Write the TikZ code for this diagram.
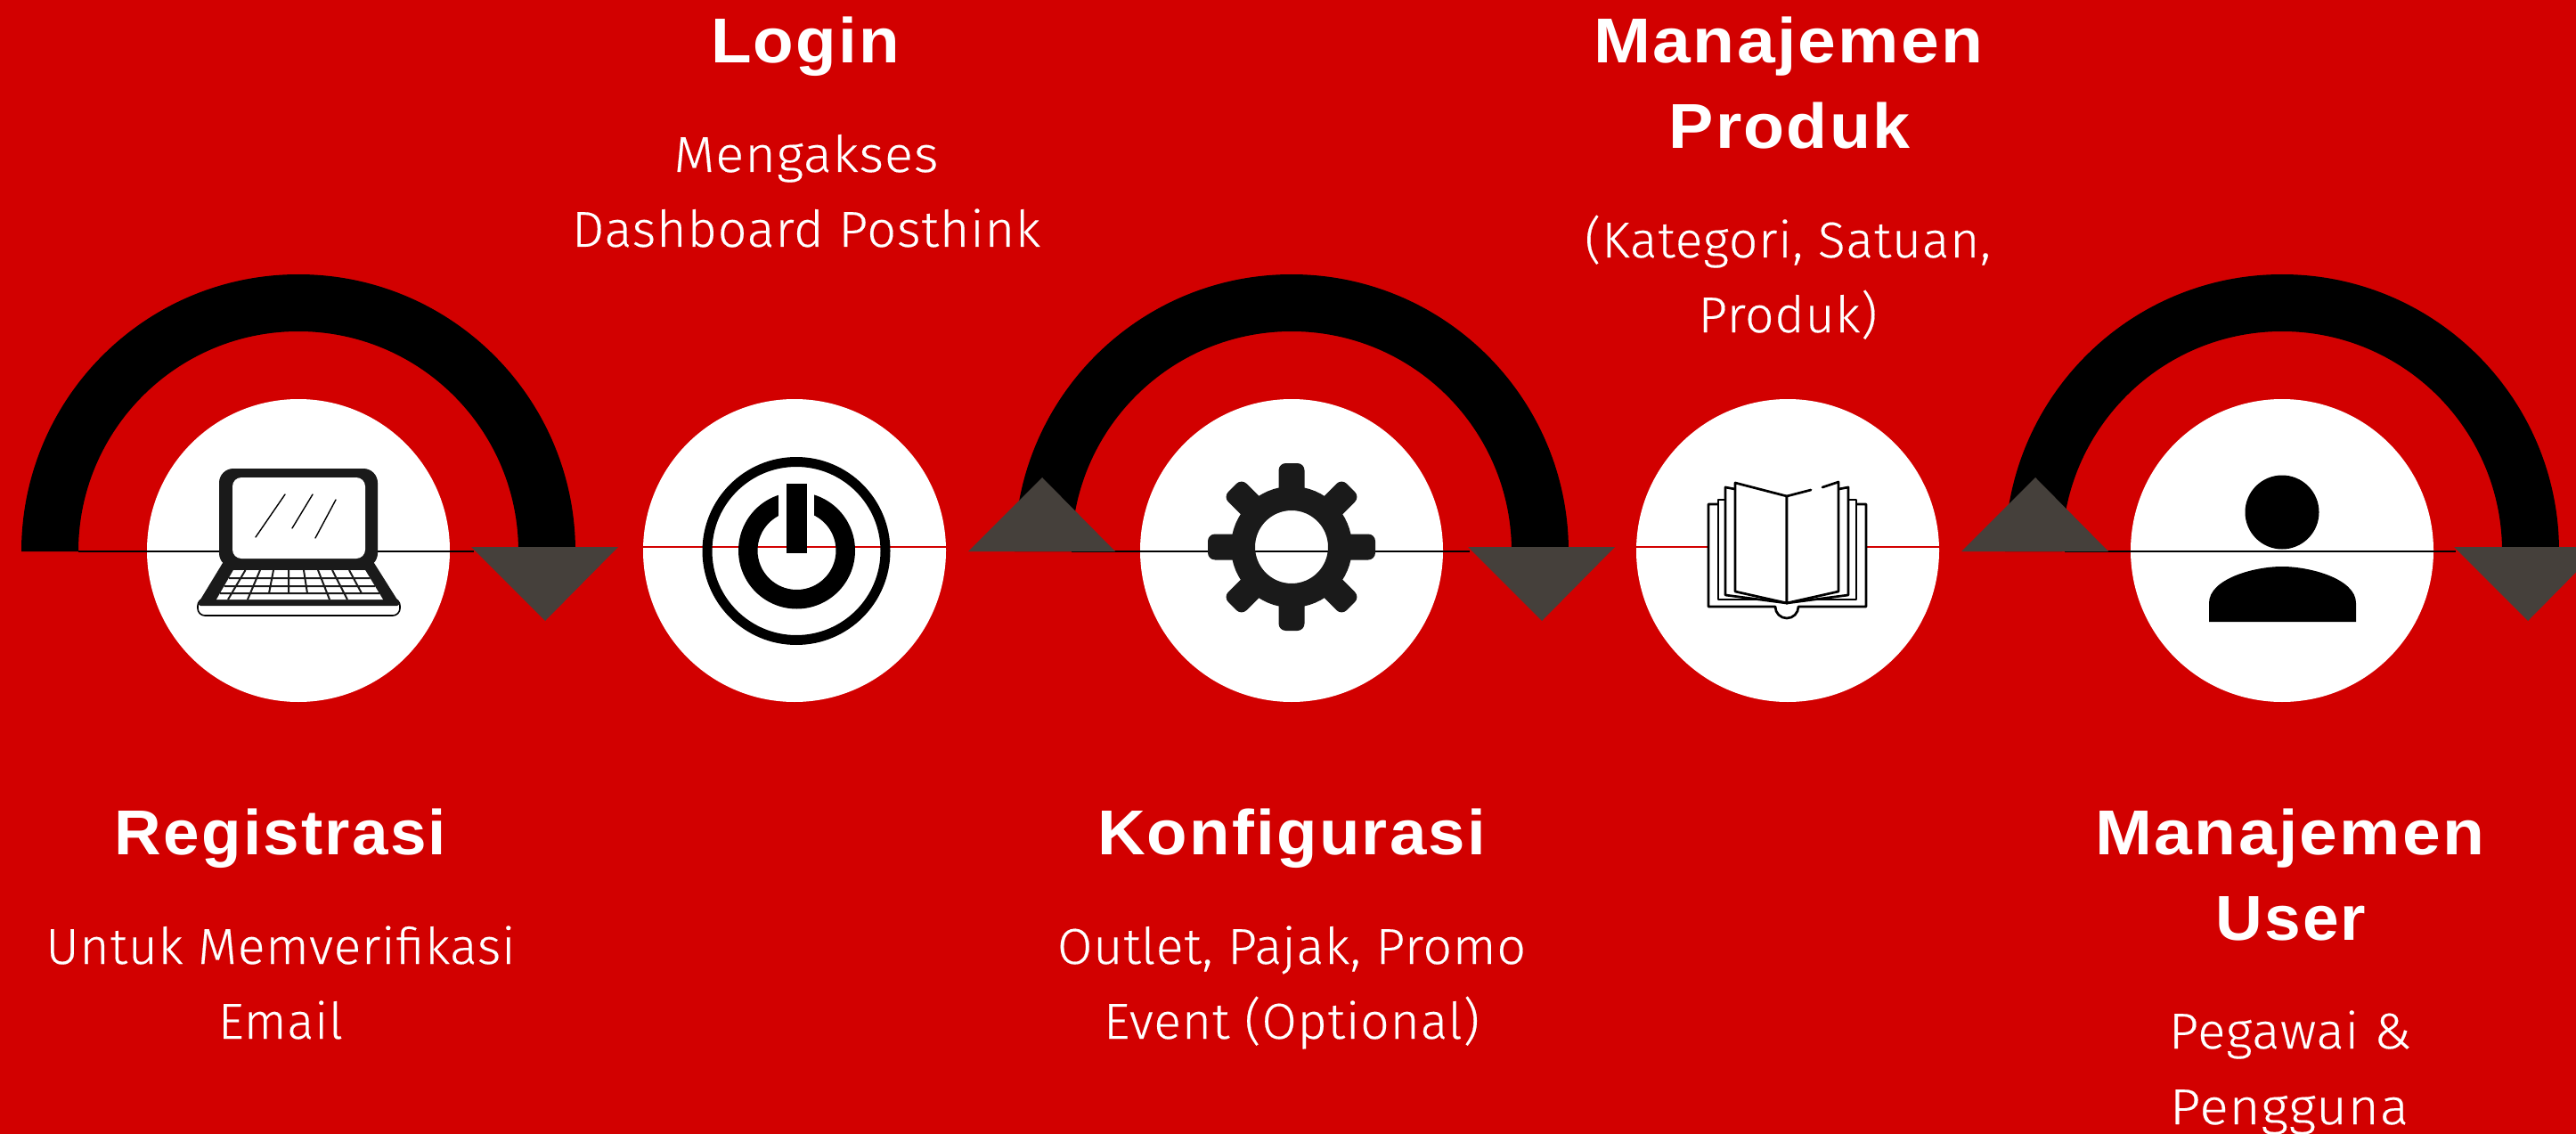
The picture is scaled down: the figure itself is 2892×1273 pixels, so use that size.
\documentclass[tikz,border=0pt]{standalone}
\usepackage{graphicx}
\usepackage{fontspec}
\newfontfamily\titlef[LetterSpace=3.0]{Liberation Sans Bold}
\newfontfamily\bodyf[LetterSpace=1.5,FakeBold=0.3]{Fira Sans Light}
\definecolor{bgred}{HTML}{D20000}
\definecolor{tri}{HTML}{45403B}
\definecolor{ink}{HTML}{1A1A1A}
\tikzset{
  title/.style={anchor=base,inner sep=0pt,text=white,font=\titlef\fontsize{35.6}{40}\selectfont},
  body/.style={anchor=base,inner sep=0pt,text=white,font=\bodyf\fontsize{28.3}{32}\selectfont},
  disc/.style={circle,fill=white,inner sep=0pt,minimum size=170pt},
  arcband/.style={fill=black},
  tripoint/.style={fill=tri},
  blackline/.style={draw=black,line width=1pt},
  redline/.style={draw=bgred,line width=1pt},
  book/.style={draw=black,line width=1.35pt,line join=round,line cap=round,fill=white},
}
\newcommand{\archband}[1]{\fill[arcband] (#1-311,619) arc[start angle=180,end angle=0,radius=155.5pt] -- (#1+247,619) arc[start angle=0,end angle=180,radius=123.5pt] -- cycle;}
\newcommand{\tfit}[2]{\resizebox{\dimexpr #1pt/2\relax}{\height}{#2}}
\begin{document}
\begin{tikzpicture}[x=0.5pt,y=-0.5pt]
\useasboundingbox (0,0) rectangle (2892,1273);
\clip (0,0) rectangle (2892,1273);
\fill[bgred] (0,0) rectangle (2892,1273);

% arcs
\archband{335}
\archband{1450}
\archband{2562}

% discs
\node[disc] (d1) at (335,618) {};
\node[disc] (d2) at (892,618) {};
\node[disc] (d3) at (1450,618) {};
\node[disc] (d4) at (2007,618) {};
\node[disc] (d5) at (2562,618) {};

% connector lines
\coordinate (a1) at (88,619);   \coordinate (b1) at (532,619);
\coordinate (a3) at (1203,619); \coordinate (b3) at (1650,619);
\coordinate (a5) at (2318,619); \coordinate (b5) at (2757,619);
\coordinate (a2) at (722,614);  \coordinate (b2) at (1062,614);
\coordinate (a4) at (1837,614); \coordinate (b4) at (2177,614);
\draw[blackline] (a1) -- (b1);
\draw[blackline] (a3) -- (b3);
\draw[blackline] (a5) -- (b5);
\draw[redline] (a2) -- (b2);
\draw[redline] (a4) -- (b4);

% triangles
\fill[tripoint] (529,614) -- (694,614) -- (612,697) -- cycle;
\fill[tripoint] (1087,619) -- (1252,619) -- (1170,536) -- cycle;
\fill[tripoint] (1648,614) -- (1813,614) -- (1731,697) -- cycle;
\fill[tripoint] (2202,619) -- (2367,619) -- (2285,536) -- cycle;
\fill[tripoint] (2755,614) -- (2920,614) -- (2838,697) -- cycle;

% laptop
\fill[white,draw=black,line width=0.8pt,rounded corners=4pt] (222,672) rectangle (449,691);
\fill[ink,line join=round] (250,632) -- (420,632) -- (449,678) -- (446,680) -- (225,680) -- (222,678) -- cycle;
\fill[ink,rounded corners=8pt] (246,526) rectangle (424,637);
\fill[white,rounded corners=5pt] (261,536) rectangle (410,627);
\fill[white] (262,640) -- (410,640) -- (430,673) -- (243,673) -- cycle;
\draw[ink,line width=1pt]
  (257,649) -- (415.5,649) (251.5,658) -- (421,658) (247,666) -- (426,666)
  (275.5,640) -- (256,673) (292,640) -- (278,673) (307,640) -- (302,666)
  (324,640) -- (324,666) (341,640) -- (345,666) (357,640) -- (370,673)
  (373,640) -- (390,673) (392,640) -- (406,666);
\draw[black,line width=0.7pt,line cap=round] (320,555) -- (287,603) (351,555) -- (328,593) (377,561) -- (354,604);

% power
\draw[black,line width=5.5pt] (894,618.5) circle[radius=50pt];
\fill[black,even odd rule] (894.5,618) circle[radius=32.75pt] (894.5,618) circle[radius=22pt];
\fill[white] (874,540) rectangle (914,600);
\fill[black] (883,543) rectangle (906,621);

% gear
\draw[ink,line width=13.5pt] (1450,614) circle[radius=27.25pt];
\foreach \a in {0,45,...,315}
  \fill[ink,rotate around={\a:(1450,614)},rounded corners=4pt] (1435.5,520) rectangle (1464.5,565);

% book
\draw[book] (1918,566) -- (1918,681) -- (1993,681) arc[start angle=180,end angle=360,radius=6.5pt] -- (2095,681) -- (2095,566) -- cycle;
\draw[book] (1929,561) rectangle (2084,673);
\draw[book] (1937,547) -- (1937,668) -- (2006,677) -- (2075,668) -- (2075,547) -- (2006,560) -- cycle;
\draw[book] (1948,542) -- (2006,557) -- (2006,677) -- (1948,664) -- cycle;
\fill[white] (2006,557) -- (2064,541) -- (2064,664) -- (2006,677) -- cycle;
\draw[book,fill=none] (2033,550) -- (2006,557) -- (2006,677) -- (2064,664) -- (2064,541) -- (2046,547);

% person
\fill[black] (2562,575) circle[radius=20.75pt];
\fill[black] (2480,698) -- (2480,677) .. controls (2480,650) and (2530,636) .. (2562,636) .. controls (2594,636) and (2645,650) .. (2645,677) -- (2645,698) -- cycle;

% texts
\node[title] (t1) at (315,959) {\tfit{372}{Registrasi}};
\node[body] (t1a) at (315,1082) {\tfit{527}{Untuk Memverifikasi}};
\node[body] (t1b) at (315,1166) {\tfit{140}{Email}};
\node[title] (t2) at (904,71) {\tfit{212}{Login}};
\node[body] (t2a) at (905,193) {\tfit{297}{Mengakses}};
\node[body] (t2b) at (905,277) {\tfit{526}{Dashboard Posthink}};
\node[title] (t3) at (1450,959) {\tfit{436}{Konfigurasi}};
\node[body] (t3a) at (1450,1082) {\tfit{526}{Outlet, Pajak, Promo}};
\node[body] (t3b) at (1450,1166) {\tfit{422}{Event (Optional)}};
\node[title] (t4) at (2008,71) {\tfit{437}{Manajemen}};
\node[title] (t4b) at (2009,167) {\tfit{271}{Produk}};
\node[body] (t4c) at (2007,289) {\tfit{456}{(Kategori, Satuan,}};
\node[body] (t4d) at (2007,373) {\tfit{201}{Produk)}};
\node[title] (t5) at (2571,959) {\tfit{437}{Manajemen}};
\node[title] (t5b) at (2572,1055) {\tfit{169}{User}};
\node[body] (t5c) at (2571,1177) {\tfit{272}{Pegawai \&}};
\node[body] (t5d) at (2570,1262) {\tfit{268}{Pengguna}};
\end{tikzpicture}
\end{document}
